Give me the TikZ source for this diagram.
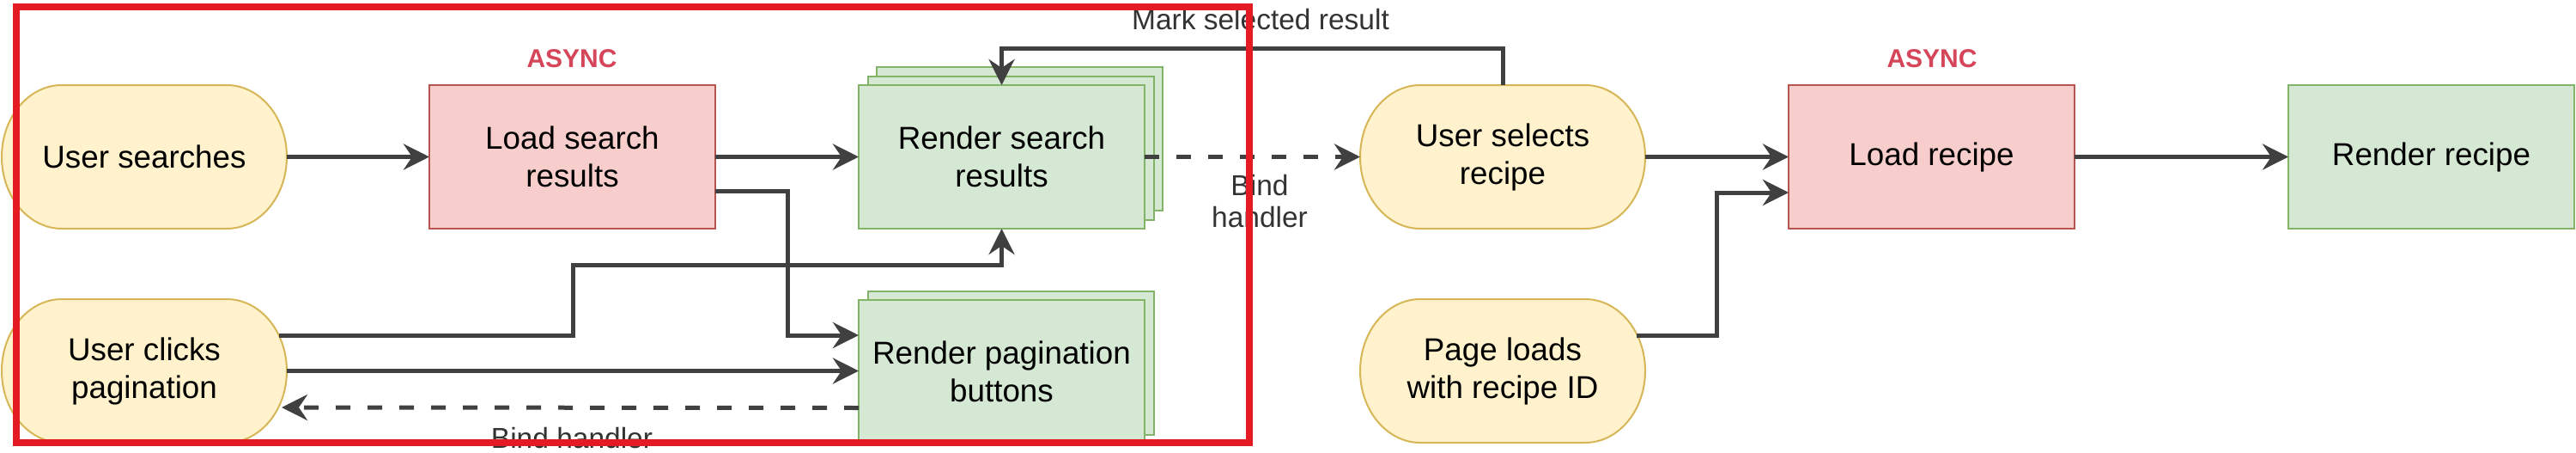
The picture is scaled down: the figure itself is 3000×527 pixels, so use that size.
\documentclass[tikz,border=0pt]{standalone}
\usepackage{fontspec}
\setmainfont{Liberation Sans}
\usetikzlibrary{arrows.meta,backgrounds}
\definecolor{Y}{HTML}{FFF2CC}
\definecolor{Yb}{HTML}{D6B656}
\definecolor{R}{HTML}{F8CECC}
\definecolor{Rb}{HTML}{B85450}
\definecolor{G}{HTML}{D5E8D4}
\definecolor{Gb}{HTML}{82B366}
\definecolor{L}{RGB}{64,64,64}
\definecolor{T}{RGB}{51,51,51}
\definecolor{A}{RGB}{213,70,90}
\definecolor{F}{RGB}{228,27,35}

\tikzset{
	txt/.style={font=\fontsize{36.8}{44}\selectfont, align=center, inner sep=0pt, outer sep=0pt},
	term/.style={txt, minimum width=332pt, minimum height=167pt},
	task/.style={txt, draw=Rb, fill=R, line width=2pt, minimum width=333pt, minimum height=167pt},
	view/.style={txt, draw=Gb, fill=G, line width=2pt, minimum width=333pt, minimum height=167pt},
	termfill/.style={draw=Yb, fill=Y, line width=2pt},
	viewback/.style={draw=Gb, fill=G, line width=2pt},
	async/.style={font=\fontsize{30}{36}\selectfont\bfseries, text=A, inner sep=0pt},
	lbl/.style={font=\fontsize{33.5}{37}\selectfont, text=T, align=center, inner sep=0pt},
	arr/.style={draw=L, line width=5pt, -{Stealth[length=30pt,width=30pt,inset=10pt]}},
	darr/.style={arr, dash pattern=on 17pt off 20pt},
	frame/.style={draw=F, line width=8pt}
}

% forma de capsula detras del nodo
\newcommand{\termshape}[1]{%
	\path[termfill] ([xshift=70pt]#1.north west) -- ([xshift=-70pt]#1.north east)
		arc[start angle=90, end angle=-90, x radius=70pt, y radius=83.5pt]
		-- ([xshift=70pt]#1.south west)
		arc[start angle=270, end angle=90, x radius=70pt, y radius=83.5pt] -- cycle;}

\begin{document}
\begin{tikzpicture}[x=1pt, y=-1pt]
	\useasboundingbox (0,0) rectangle (3000,527);

	%Fila superior
	\node[term] (usearch) at (168,182.5) {User searches};
	\node[task] (loadsr) at (666.5,182.5) {Load search\\results};
	\node[view] (rsearch) at (1166.5,182.5) {Render search\\results};
	\node[term] (uselect) at (1750,182.5) {User selects\\recipe};
	\node[task] (loadrec) at (2249.5,182.5) {Load recipe};
	\node[view] (rrec) at (2831.5,182.5) {Render recipe};

	%Fila inferior
	\node[term] (uclick) at (168,431.5) {User clicks\\pagination};
	\node[view] (rpag) at (1166.5,432.5) {Render pagination\\buttons};
	\node[term] (pload) at (1750,431.5) {Page loads\\with recipe ID};

	\node[async] (async1) at (666,68.5) {ASYNC};
	\node[async] (async2) at (2250,68.5) {ASYNC};

	%Capsulas y copias apiladas
	\begin{scope}[on background layer]
		\termshape{usearch}
		\termshape{uclick}
		\termshape{uselect}
		\termshape{pload}
		\foreach \d in {21,10.5}
			\path[viewback] ([xshift=\d pt,yshift=\d pt]rsearch.south west) rectangle ([xshift=\d pt,yshift=\d pt]rsearch.north east);
		\path[viewback] ([xshift=10.5pt,yshift=10.5pt]rpag.south west) rectangle ([xshift=10.5pt,yshift=10.5pt]rpag.north east);
	\end{scope}

	%Conexiones
	\draw[arr] (usearch) -- (loadsr);
	\draw[arr] (loadsr) -- (rsearch);
	\draw[arr] ([yshift=-39.5pt]loadsr.east) -- ++(84,0) |- ([yshift=42.5pt]rpag.west);
	\draw[arr] ([xshift=-9pt,yshift=41.5pt]uclick.east) -| (667,308) -| (rsearch.south);
	\draw[arr] (uclick.east) -- (uclick.east -| rpag.west);
	\draw[darr] ([yshift=-42pt]rpag.west) -- ([xshift=-6pt,yshift=-42.5pt]uclick.east);
	\draw[darr] (rsearch.east) -- (uselect.west);
	\draw[arr] (uselect.north) -- ++(0,-42) -| (rsearch.north);
	\draw[arr] (uselect) -- (loadrec);
	\draw[arr] ([xshift=-10pt,yshift=41.5pt]pload.east) -- ++(93,0) |- ([yshift=-41.5pt]loadrec.west);
	\draw[arr] (loadrec) -- (rrec);

	%Etiquetas
	\node[lbl, anchor=base] (lmark) at (1468,35) {Mark selected result};
	\node[lbl] (lbind1) at (1467,234) {Bind\\handler};
	\node[lbl, anchor=base] (lbind2) at (666,521) {Bind handler};

	%Marco rojo
	\draw[frame] (19,8) rectangle (1455,514.5);
\end{tikzpicture}
\end{document}
